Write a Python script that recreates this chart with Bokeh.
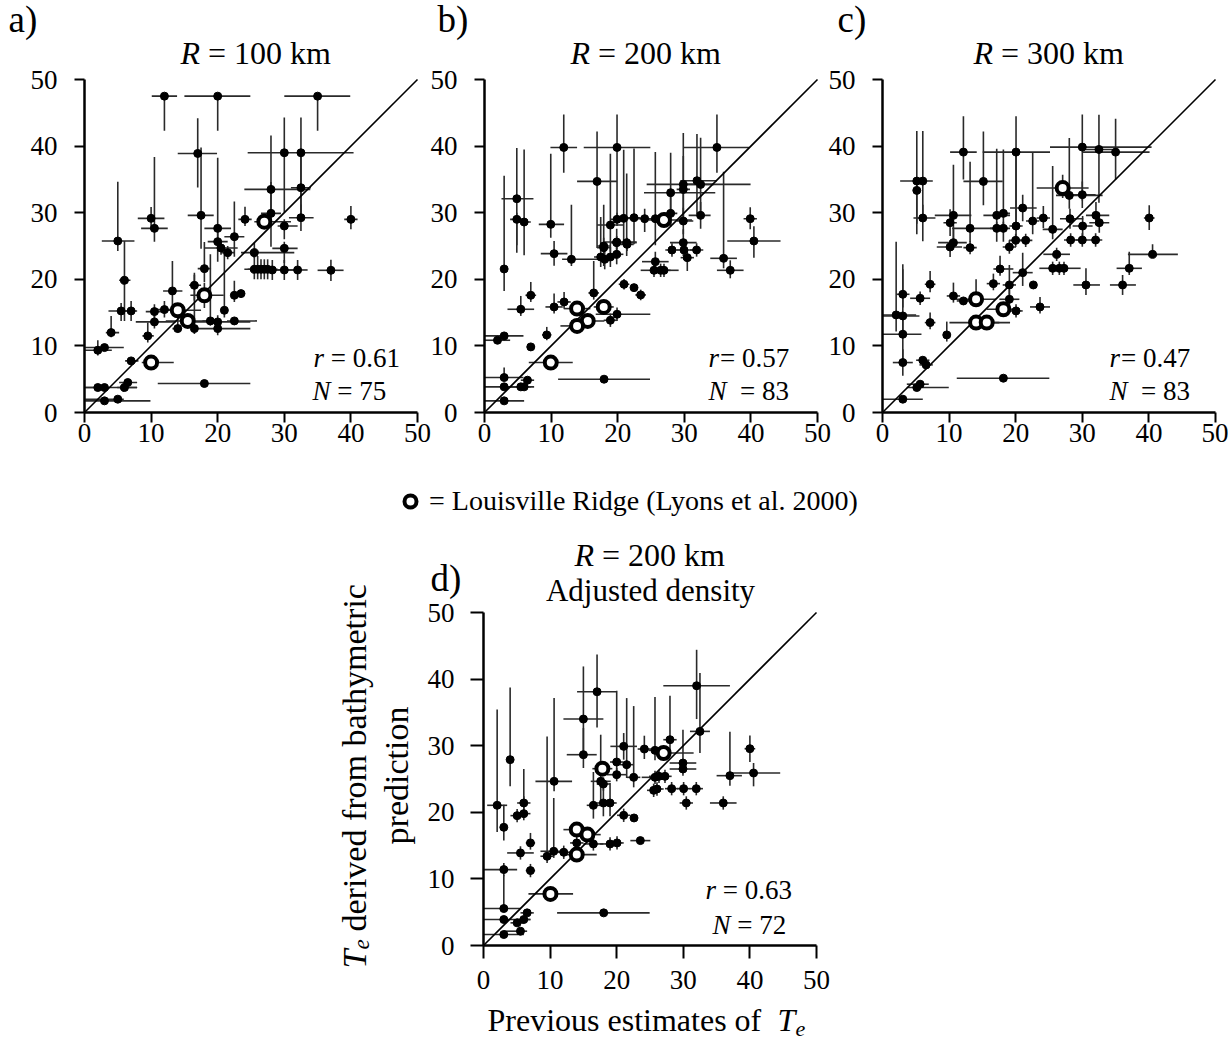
import numpy as np
from bokeh.plotting import figure
from bokeh.models import Range1d, FixedTicker, Label, Legend, LegendItem, LinearAxis
from bokeh.embed import file_html
from bokeh.resources import INLINE

FONT = "Liberation Serif"
TICKS = [0, 10, 20, 30, 40, 50]
DIAG = [0, 50]
LEGEND_TEXT = "= Louisville Ridge (Lyons et al. 2000)"

# ---------------- panel a : R = 100 km ----------------
A_X = [12.0,20.0,35.0,17.0,30.0,32.5,28.0,32.5,10.0,10.5, 5.0,17.5,20.0,20.0,22.5,24.1,27.0,28.0,30.0,32.5,
       40.0,20.5,21.5,25.5,30.0,25.5,26.0,26.5,27.0,27.5, 28.2,30.0,32.0,37.0,6.0,18.0,13.2,16.5,18.0,22.5,
       23.5,5.5,7.0,10.5,12.0,14.0,21.0,15.5,10.5,14.0, 16.5,18.9,20.0,20.0,22.5,4.0,9.5,2.0,3.0,7.0,
       10.0,18.0,2.0,3.0,6.0,6.5,3.0,5.0]
A_Y = [47.5,47.5,47.5,38.9,39.0,39.0,33.5,33.75,29.15,27.65, 25.75,29.6,27.65,25.65,26.4,29.0,28.65,29.9,28.0,29.25,
       29.0,24.7,24.0,24.0,24.65,21.5,21.5,21.5,21.5,21.5, 21.4,21.4,21.4,21.35,19.85,21.6,18.25,19.1,17.6,17.6,
       17.85,15.25,15.25,15.15,15.45,15.35,15.35,13.75,13.6,12.6, 12.6,13.75,13.6,12.6,13.75,12.0,11.5,9.35,9.75,7.75,
       7.5,4.35,3.75,3.75,3.75,4.5,1.75,2.0]
A_XL = [1.9,5.0,5.0,3.0,5.5,0.5,4.0,1.5,2.0,2.0, 2.4,2.0,2.0,1.5,1.5,1.0,1.5,1.5,1.0,1.8,
        1.0,2.5,1.0,2.0,1.8,1.5,1.5,1.5,1.5,1.5, 1.5,1.5,1.5,2.0,0.8,1.0,1.4,0.8,2.1,0.5,
        1.0,1.9,0.9,1.3,1.3,2.1,0.5,3.3,2.8,0.8, 0.5,1.2,4.0,4.0,1.1,0.8,0.8,1.9,2.9,0.9,
        1.4,7.0,1.9,2.9,1.1,1.3,2.9,4.9]
A_XH = [1.9,4.9,4.9,2.9,10.4,0.5,5.9,1.5,2.0,2.0, 2.5,1.9,2.0,1.5,1.5,1.0,4.0,1.5,2.0,1.9,
        1.0,2.5,1.0,6.0,2.0,1.5,1.5,1.5,1.5,1.5, 1.5,1.5,1.5,1.9,0.9,1.0,1.5,1.0,2.9,0.5,
        0.6,1.7,0.9,1.4,1.2,3.5,0.5,3.2,3.2,0.6, 0.5,1.2,4.9,4.9,3.4,1.2,0.9,2.1,2.9,1.1,
        3.4,6.9,1.5,4.9,1.9,1.4,6.9,0.9]
A_YL = [5.2,5.2,5.2,5.1,9.0,9.0,5.0,5.0,1.7,2.0, 1.5,5.0,3.0,3.0,3.0,1.0,1.0,5.0,2.0,2.0,
        1.5,1.0,1.0,0.8,2.2,1.5,1.5,1.5,1.5,1.5, 1.5,1.5,1.5,1.6,6.1,2.0,2.2,2.3,1.9,1.0,
        0.5,1.5,1.5,1.6,1.2,1.0,1.1,1.0,1.0,0.6, 0.8,0.7,1.0,1.0,0.5,0.7,1.0,0.8,0.5,0.5,
        0.5,0.3,0.5,0.5,0.5,0.5,0.3,0.3]
A_YH = [0.0,0.0,0.0,5.3,5.3,5.3,8.1,5.0,1.7,10.7, 8.9,10.2,10.6,2.0,5.3,1.9,1.0,4.7,1.0,2.0,
        2.0,1.0,1.0,1.5,1.0,2.0,2.0,1.5,1.5,1.5, 1.5,1.5,1.5,1.6,5.9,4.0,4.5,1.9,1.9,2.2,
        0.5,1.2,1.5,1.1,1.3,1.0,9.4,1.0,1.0,3.0, 8.1,10.0,1.0,1.0,0.5,2.5,2.0,1.5,0.5,0.5,
        0.5,0.3,0.5,0.5,0.5,0.5,0.3,0.3]
A_LR_IDX = [16, 38, 45, 47, 60]
A_STATS = ("0.61", "75")

# ---------------- panel b : R = 200 km ----------------
B_X = [11.9,19.9,34.9,16.9,4.85,4.85,5.95,9.95,27.95,29.85, 29.85,31.9,32.45,32.45,39.9,40.45,29.85,26.95,19.9,20.9,
       22.45,24.05,25.65,27.95,29.85,18.9,19.85,21.35,17.9,10.45, 2.95,13.05,17.45,18.05,18.9,17.9,19.85,19.85,21.4,28.15,
       29.95,31.85,30.45,35.9,36.9,25.65,25.45,26.45,26.95,20.95, 22.45,23.45,16.4,6.95,11.95,10.45,5.45,13.9,17.9,15.5,
       13.9,19.9,18.9,9.35,2.95,1.95,6.95,9.95,17.95,2.95, 2.95,5.45,5.95,6.45,2.95]
B_Y = [39.8,39.8,39.8,34.7,32.1,29.0,28.6,28.25,33.0,34.25, 33.5,34.8,34.25,29.6,29.1,25.75,25.5,28.9,29.0,29.15,
       29.25,29.1,29.1,29.9,28.75,28.15,25.6,25.5,25.0,23.85, 21.55,23.0,23.35,23.0,23.35,24.75,23.75,25.5,25.25,24.4,
       24.4,24.4,23.25,23.15,21.35,22.65,21.35,21.35,21.35,19.25, 18.75,17.65,17.95,17.6,16.6,15.85,15.5,15.6,15.85,13.75,
       13.0,14.75,13.85,11.65,11.5,10.85,9.85,7.5,5.0,5.25, 3.85,3.85,3.85,4.85,1.75]
B_XL = [2.0,5.0,5.0,3.0,2.3,1.0,1.0,1.8,4.0,5.5, 1.0,2.5,2.0,1.8,1.0,4.0,2.0,2.3,1.0,1.0,
        1.0,1.0,1.0,1.0,1.0,2.0,2.0,1.5,1.0,2.0, 0.5,1.4,1.0,1.0,1.0,1.0,1.0,1.0,1.0,1.0,
        1.0,1.0,1.0,2.0,2.0,2.0,2.0,1.5,1.5,0.8, 0.5,0.8,0.8,0.8,1.0,1.3,2.0,2.0,1.5,2.5,
        2.5,3.2,1.0,0.7,2.9,1.9,0.6,3.3,6.9,2.9, 2.9,2.9,1.0,1.0,2.9]
B_XH = [2.0,5.0,4.8,3.0,2.5,1.0,1.0,2.0,6.7,10.1, 1.0,3.0,2.0,1.5,1.0,4.0,2.0,4.2,1.0,1.0,
        1.0,1.0,1.0,1.0,1.5,2.0,3.0,1.5,1.0,2.0, 0.5,3.9,1.0,1.0,1.0,1.0,1.0,1.0,1.0,1.0,
        1.5,1.0,1.0,2.0,2.0,2.0,2.0,1.5,2.2,0.8, 0.5,0.8,0.8,0.8,1.0,1.3,2.0,2.0,1.5,2.5,
        2.0,5.0,1.0,0.7,2.9,1.9,0.6,3.3,6.9,2.9, 2.9,2.0,1.0,1.0,3.0]
B_YL = [3.8,11.0,3.8,10.0,7.0,5.0,5.0,2.0,5.0,5.0, 5.0,5.0,5.0,2.0,1.6,2.5,2.0,1.0,1.0,4.0,
        4.0,2.0,4.0,2.0,2.0,4.0,2.0,2.0,3.0,1.8, 3.3,1.0,1.5,1.5,1.5,1.5,1.5,1.0,1.0,1.0,
        1.5,1.0,2.0,1.5,1.2,1.0,1.0,1.0,1.0,0.8, 0.5,0.8,1.0,1.0,1.0,1.0,1.0,1.0,1.0,1.0,
        1.0,1.0,1.0,0.8,0.5,0.5,0.5,0.5,0.3,0.5, 0.5,0.5,0.5,0.5,0.3]
B_YH = [4.95,4.95,4.95,7.5,7.6,1.0,10.9,10.6,6.0,7.7, 5.0,7.0,7.0,2.0,1.7,2.2,2.0,1.0,1.0,10.3,
        10.4,1.5,10.0,3.0,2.0,10.7,2.0,10.4,6.2,1.9, 14.0,8.2,6.0,1.5,1.5,1.5,1.5,1.0,1.0,1.0,
        1.0,1.0,1.0,13.0,1.5,1.5,1.0,1.0,1.0,0.8, 0.5,0.8,4.8,2.0,1.5,2.0,2.0,1.0,1.0,1.0,
        1.0,1.0,1.0,1.2,0.5,0.5,0.5,0.5,0.3,1.5, 0.5,0.5,0.5,0.5,0.3]
B_LR_IDX = [17, 57, 58, 59, 60, 67]
B_STATS = ("0.57", "83")

# ---------------- panel c : R = 300 km ----------------
C_X = [12.15,20.05,30.0,32.5,35.0,5.15,6.05,5.15,15.15,27.05, 28.05,30.0,6.05,10.65,10.15,13.15,17.15,18.15,17.15,18.15,
       21.05,20.05,22.55,24.15,25.55,28.15,30.05,32.05,32.55,40.05, 10.65,20.0,21.5,28.25,30.0,32.0,10.15,13.15,19.05,26.15,
       25.55,26.55,27.25,40.55,37.05,30.55,36.05,17.65,21.05,19.05, 22.65,16.65,7.15,3.05,5.65,10.65,12.15,14.05,18.15,14.05,
       15.65,19.05,20.05,23.65,2.05,3.05,7.15,3.05,9.65,3.05, 6.05,6.55,18.15,5.65,5.15,3.05]
C_Y = [39.1,39.1,39.85,39.5,39.1,34.75,34.75,33.35,34.7,33.7, 32.6,32.7,29.2,29.6,28.5,27.65,29.6,29.9,27.65,27.65,
       30.7,28.0,28.75,29.2,27.5,29.1,28.0,29.6,28.5,29.2, 25.5,25.85,25.85,25.9,25.9,25.9,24.85,24.75,24.85,23.75,
       21.65,21.65,21.65,23.75,21.65,19.15,19.15,21.55,21.0,19.15, 19.15,19.35,19.25,17.75,17.15,17.5,16.75,17.0,15.5,13.5,
       13.5,17.0,15.25,15.85,14.65,14.5,13.5,11.75,11.65,7.5, 7.85,7.15,5.15,4.25,3.75,2.0]
C_XL = [2.0,5.0,4.85,2.0,5.0,2.5,0.9,0.5,3.0,3.9, 2.0,2.0,1.4,2.8,1.0,2.7,2.0,1.0,1.0,1.0,
        1.9,1.0,1.0,1.0,1.5,1.5,1.5,1.5,1.5,0.8, 2.3,1.0,1.0,1.0,1.0,1.0,2.0,1.0,1.0,2.0,
        2.0,1.0,1.0,3.7,1.9,1.9,1.9,1.0,1.5,1.0, 0.5,1.0,0.8,1.0,1.5,1.0,1.0,3.0,2.5,4.0,
        2.0,1.5,1.0,1.5,2.0,3.0,0.8,3.0,0.5,1.5, 1.0,1.0,7.0,2.0,1.5,3.0]
C_XH = [2.0,5.1,10.4,2.0,5.1,0.9,1.5,0.5,2.9,3.9, 5.0,2.0,1.9,2.7,1.0,4.9,2.0,1.0,1.0,1.0,
        2.1,1.0,1.0,1.0,1.5,2.0,1.5,2.0,1.5,0.8, 2.0,1.0,1.0,1.5,1.0,1.0,1.8,1.0,1.0,2.0,
        1.0,1.0,2.5,3.8,1.9,2.1,2.0,2.0,1.5,1.0, 0.5,1.0,0.8,1.0,1.5,1.0,1.0,3.0,2.5,3.5,
        3.5,1.5,1.0,1.5,3.0,2.5,0.8,2.8,0.5,1.5, 1.0,1.0,6.9,1.3,4.8,3.0]
C_YL = [4.1,11.0,8.0,8.0,4.1,8.0,6.0,5.0,3.6,1.5, 2.0,2.0,3.5,4.0,2.0,2.0,2.0,2.0,2.0,2.0,
        2.0,2.0,2.0,1.5,1.5,1.5,1.5,1.5,1.5,1.8, 1.0,1.0,1.0,1.0,1.0,1.0,1.5,1.0,1.0,1.0,
        1.0,1.0,1.0,0.5,1.0,1.5,1.5,1.0,2.0,1.5, 0.5,1.0,1.2,2.0,1.0,1.0,0.5,1.0,1.0,1.0,
        1.0,1.5,1.0,1.0,2.5,3.0,1.0,4.0,1.0,2.0, 0.5,0.5,0.2,0.5,0.5,0.3]
C_YH = [5.4,5.4,4.9,5.2,5.0,7.5,7.5,1.0,7.5,2.0, 8.6,2.0,2.0,7.6,2.0,10.0,10.0,9.6,1.0,1.0,
        2.0,11.0,10.3,1.8,9.5,1.5,1.5,2.0,1.5,1.9, 2.0,1.0,1.0,1.0,1.0,1.0,1.0,1.0,1.0,1.0,
        1.0,1.0,1.0,1.5,2.5,2.5,1.5,2.0,3.0,3.0, 0.5,1.5,2.0,4.5,1.0,2.0,0.5,3.0,1.0,1.0,
        1.0,1.5,1.0,1.5,11.0,7.0,1.5,2.5,2.0,2.0, 0.5,0.5,0.2,0.5,0.5,0.3]
C_LR_IDX = [9, 57, 58, 59, 60]
C_STATS = ("0.47", "83")

# ---------------- panel d : R = 200 km, adjusted density ----------------
D_X = [32.0,17.05,15.0,32.5,4.0,15.0,21.05,24.15,25.75,27.05, 28.0,29.95,29.95,40.0,40.55,37.0,17.85,20.0,21.5,20.0,
       22.55,10.6,17.6,18.0,25.75,26.35,27.25,25.55,26.05,28.25, 30.05,31.95,30.45,36.0,2.05,3.05,6.05,5.05,6.05,16.5,
       18.0,19.0,21.05,22.6,14.0,15.6,14.0,10.05,7.05,14.0, 16.5,19.0,20.05,23.55,5.55,10.55,12.05,9.55,3.05,7.05,
       18.05,3.05,6.55,3.05,5.05,6.05,5.55,3.05]
D_Y = [39.0,38.1,34.0,32.15,27.9,28.65,29.9,29.5,29.3,28.9, 30.9,27.4,26.5,29.55,25.9,25.5,26.55,27.55,27.15,25.65,
       25.25,24.65,24.65,24.25,25.25,25.4,25.4,23.3,23.5,23.55, 23.55,23.55,21.4,21.4,21.05,17.75,21.4,19.5,19.8,21.05,
       21.4,21.4,19.55,19.15,17.4,16.65,13.65,7.75,15.4,15.4, 15.25,15.25,15.4,15.75,13.9,14.15,14.0,13.4,11.4,11.25,
       4.9,5.55,4.9,3.9,3.4,3.9,2.15,1.65]
D_XL = [5.0,3.0,3.0,1.5,0.5,2.5,2.0,1.0,1.0,1.5, 1.0,2.0,2.0,0.8,4.0,2.0,1.5,1.0,1.0,1.5,
        1.0,2.8,1.5,1.0,2.0,1.5,1.0,1.0,1.0,1.0, 1.0,1.0,1.0,2.0,1.5,0.5,1.0,1.0,1.0,1.0,
        1.0,1.0,1.0,0.5,2.0,2.0,2.0,3.3,0.7,1.0, 1.5,1.5,1.0,1.5,2.0,2.0,1.0,1.0,3.0,0.7,
        7.0,3.0,1.0,3.0,1.0,1.0,2.5,3.0]
D_XH = [5.0,3.0,3.0,1.5,0.5,2.0,2.0,1.0,1.0,4.5, 1.0,2.0,2.0,0.8,4.0,1.8,1.5,1.0,1.0,1.5,
        1.0,2.7,1.5,1.0,2.0,1.5,1.0,1.0,1.0,1.0, 1.0,1.0,1.0,2.0,1.5,0.5,1.0,1.0,1.0,1.0,
        1.0,1.0,1.0,0.5,2.0,2.0,3.0,3.4,0.7,1.0, 1.5,1.5,1.0,1.5,2.0,2.0,1.0,1.0,2.0,0.7,
        6.9,2.5,1.0,4.0,1.0,1.0,1.0,3.0]
D_YL = [5.0,5.35,5.0,3.25,4.0,2.0,2.0,1.5,1.5,1.0, 2.0,1.0,1.0,2.0,2.0,1.5,1.0,2.0,2.0,1.0,
        1.5,1.5,3.0,1.0,1.0,1.0,1.0,1.0,1.0,1.0, 1.0,1.0,1.0,1.0,4.0,2.0,1.0,1.0,1.0,2.0,
        2.0,2.0,1.0,0.5,1.0,1.0,1.0,0.5,1.0,1.0, 1.0,1.0,1.0,0.5,1.0,1.0,1.0,1.0,1.0,1.0,
        0.2,0.5,0.5,0.5,0.5,0.5,0.5,0.5]
D_YH = [5.4,5.6,7.9,8.75,10.85,4.0,2.0,2.0,8.0,1.0, 6.6,5.0,1.0,2.0,1.5,6.6,1.0,10.7,10.0,1.0,
        10.7,12.5,7.0,1.0,1.0,1.0,1.0,1.0,1.0,1.0, 1.0,1.0,1.0,1.0,14.4,3.4,1.0,1.0,6.7,5.0,
        3.0,3.0,1.0,0.5,1.0,1.0,1.0,0.5,1.5,1.0, 1.0,1.0,1.0,0.5,1.0,8.0,1.0,18.0,1.0,1.0,
        0.2,5.0,0.5,0.5,0.5,0.5,0.5,0.5]
D_LR_IDX = [9, 16, 44, 45, 46, 47]
D_STATS = ("0.63", "72")

BAR = "#2a2a2a"
PX = 6.66            # pixels per data unit
W, H = 1228, 1042    # canvas size
ORIG_A = (84, 412)   # page pixel of data (0, 0) for each panel
ORIG_B = (484, 412)
ORIG_C = (882, 412)
ORIG_D = (483, 945)


def xr(o):
    return Range1d(-o[0] / PX, (W - o[0]) / PX)


def yr(o):
    return Range1d((o[1] - H) / PX, o[1] / PX)


p = figure(width=W, height=H, x_range=xr(ORIG_A), y_range=yr(ORIG_A),
           output_backend="svg", toolbar_location=None, min_border=0,
           x_axis_location=None, y_axis_location=None)
p.extra_x_ranges = {"xb": xr(ORIG_B), "xc": xr(ORIG_C), "xd": xr(ORIG_D)}
p.extra_y_ranges = {"yd": yr(ORIG_D)}
p.xgrid.visible = False
p.ygrid.visible = False
p.outline_line_color = None


def shift(size):
    # correction between requested and drawn alphabetic baseline
    return 0.22 * size + 6


def lab(px, py, text, size, italic=False, align="left", baseline="alphabetic",
        xo=0, yo=0, angle=0.0):
    # px, py are page pixel positions, converted to the default data units
    x = (px - ORIG_A[0]) / PX
    y = (ORIG_A[1] - py) / PX
    if baseline == "alphabetic":
        if angle == 0.0:
            yo = yo + shift(size)
        else:
            xo = xo - shift(size)
    p.add_layout(Label(x=x, y=y, text=text, text_font=FONT, text_font_size=f"{size}px",
                       text_font_style="italic" if italic else "normal",
                       text_align=align, text_baseline=baseline, text_color="black",
                       x_offset=xo, y_offset=yo, angle=angle))


def style_axis(ax, tick_out, standoff):
    ax.ticker = FixedTicker(ticks=TICKS)
    ax.axis_line_width = 2.5
    ax.axis_line_color = "black"
    ax.major_tick_line_width = 2
    ax.major_tick_line_color = "black"
    ax.major_tick_in = 0
    ax.major_tick_out = tick_out
    ax.minor_tick_line_color = None
    ax.major_label_text_font = FONT
    ax.major_label_text_font_size = "27px"
    ax.major_label_text_color = "black"
    ax.major_label_standoff = standoff


def panel(X, Y, XL, XH, YL, YH, LR, xn, yn, tick_out, xstand, ystand):
    xa = LinearAxis(x_range_name=xn, y_range_name=yn, fixed_location=0, bounds=(0, 50))
    ya = LinearAxis(x_range_name=xn, y_range_name=yn, fixed_location=0, bounds=(0, 50))
    style_axis(xa, tick_out, xstand)
    style_axis(ya, tick_out, ystand)
    p.add_layout(xa, "below")
    p.add_layout(ya, "left")
    X = np.array(X); Y = np.array(Y)
    XL = np.array(XL); XH = np.array(XH); YL = np.array(YL); YH = np.array(YH)
    lr = np.zeros(len(X), dtype=bool)
    lr[LR] = True
    kw = dict(x_range_name=xn, y_range_name=yn)
    p.segment(X - XL, Y, X + XH, Y, line_color=BAR, line_width=1.6, **kw)
    p.segment(X, Y - YL, X, Y + YH, line_color=BAR, line_width=1.6, **kw)
    p.line(DIAG, DIAG, line_color="black", line_width=1.6, **kw)
    p.scatter(X[~lr], Y[~lr], size=8, fill_color="black", line_color="black", **kw)
    return p.scatter(X[lr], Y[lr], size=12, fill_color="white", line_color="black",
                     line_width=4, **kw)


def stats(px_r, py_r, px_n, py_n, st, r_gap, n_gap):
    lab(px_r, py_r, "r", 27, italic=True)
    lab(px_r, py_r, "= " + st[0], 27, xo=r_gap)
    lab(px_n, py_n, "N", 27, italic=True)
    lab(px_n, py_n, "= " + st[1], 27, xo=n_gap)


def title(px, py, rval):
    lab(px, py, "R", 32, italic=True)
    lab(px, py, f"= {rval} km", 32, xo=27.5)


# row 1
panel(A_X, A_Y, A_XL, A_XH, A_YL, A_YH, A_LR_IDX, "default", "default", 10, 1, 17)
panel(B_X, B_Y, B_XL, B_XH, B_YL, B_YH, B_LR_IDX, "xb", "default", 10, 1, 17)
panel(C_X, C_Y, C_XL, C_XH, C_YL, C_YH, C_LR_IDX, "xc", "default", 10, 1, 17)

lab(8, 33, "a)", 37)
lab(437, 33, "b)", 37)
lab(837, 33, "c)", 37)
title(180, 66, 100)
title(570, 66, 200)
title(973, 66, 300)
stats(313, 369, 312, 402, A_STATS, 17.3, 24.8)
stats(708, 369, 708, 402, B_STATS, 11.5, 31.5)
stats(1109, 369, 1109, 402, C_STATS, 11.5, 31.5)

# panel d
rd = panel(D_X, D_Y, D_XL, D_XH, D_YL, D_YH, D_LR_IDX, "xd", "yd", 13, 12, 16)
lab(430, 592, "d)", 37)
title(574, 568, 200)
lab(650, 603, "Adjusted density", 31, align="center")
stats(705, 901, 712, 936, D_STATS, 17.3, 24.8)

# y axis label (rotated)
lab(367, 968, "T", 34, italic=True, angle=np.pi / 2)
lab(372, 949, "e", 23, italic=True, angle=np.pi / 2)
lab(367, 968, "derived from bathymetric", 34, angle=np.pi / 2, yo=37)
lab(396, 775, "prediction", 34, align="center", baseline="middle", angle=np.pi / 2)

# x axis label
lab(487, 1033, "Previous estimates of", 32)
lab(487, 1033, "T", 32, italic=True, xo=290)
lab(795, 1039, "e", 22, italic=True)

leg = Legend(items=[LegendItem(label=LEGEND_TEXT, renderers=[rd])],
             location=(395, H - 517), border_line_color=None,
             background_fill_alpha=0.0, padding=0, margin=0, spacing=0, label_standoff=4,
             glyph_width=30, glyph_height=30,
             label_text_font=FONT, label_text_font_size="28px", label_text_color="black",
             label_text_baseline="middle", label_height=30)
p.add_layout(leg)

open("out.html", "w").write(file_html(p, INLINE))
